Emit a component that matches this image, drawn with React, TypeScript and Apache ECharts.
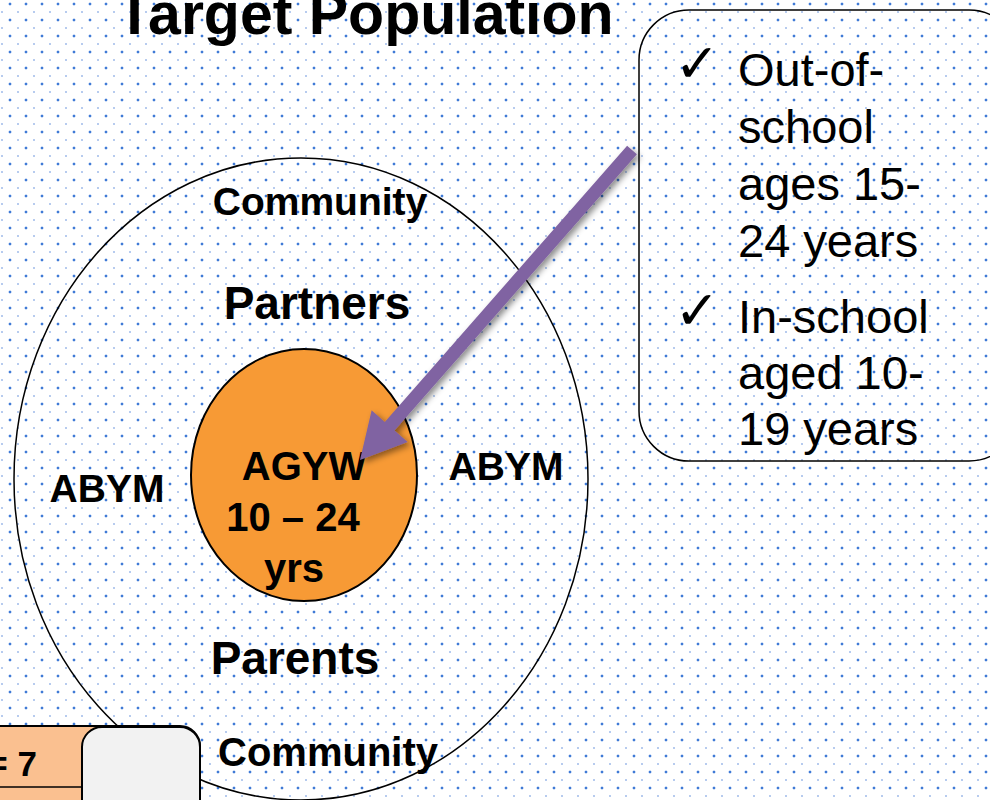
import React, { useEffect, useRef } from "react";
import * as echarts from "echarts";

// ---- content ----
const titleText = "Target Population";
const outerLabels = ["Community", "Partners", "ABYM", "ABYM", "Parents", "Community"];
const coreLabels = ["AGYW", "10 – 24", "yrs"];
const criteriaGroup1 = ["Out-of-", "school", "ages 15-", "24 years"];
const criteriaGroup2 = ["In-school", "aged 10-", "19 years"];
const cornerLabel = "n = 7";

// ---- layout (positions / styles) ----
const W = 990;
const H = 800;
const outerPos: [number, number, number][] = [
  [320, 201, 39],
  [317, 303, 46],
  [107, 488, 39],
  [506, 466, 39],
  [295, 658, 46],
  [328, 752, 40],
];
const corePos: [number, number][] = [
  [304, 466],
  [293, 517],
  [294, 568],
];
const FONT = "Liberation Sans, Arial, Helvetica, sans-serif";

function arrowPoints(tail: number[], tip: number[], shaftHalf: number, headLen: number, headHalf: number) {
  const dx = tip[0] - tail[0];
  const dy = tip[1] - tail[1];
  const len = Math.sqrt(dx * dx + dy * dy);
  const d = [dx / len, dy / len];
  const n = [-d[1], d[0]];
  const b = [tip[0] - headLen * d[0], tip[1] - headLen * d[1]];
  const p = (base: number[], k: number) => [base[0] + n[0] * k, base[1] + n[1] * k];
  return [
    p(tail, shaftHalf),
    p(b, shaftHalf),
    p(b, headHalf),
    tip,
    p(b, -headHalf),
    p(b, -shaftHalf),
    p(tail, -shaftHalf),
  ];
}

export default function App() {
  const ref = useRef<HTMLDivElement>(null);
  useEffect(() => {
    if (!ref.current) return;
    const chart = echarts.init(ref.current, undefined, { renderer: "svg", width: W, height: H });
    const boldText = (text: string, x: number, y: number, size: number, extra: any = {}) => ({
      type: "text",
      x,
      y,
      z: 10,
      style: {
        text,
        fill: "#000",
        font: `bold ${size}px ${FONT}`,
        textAlign: "center",
        textVerticalAlign: "middle",
        ...extra,
      },
    });
    const elements: any[] = [];
    elements.push({
      type: "ellipse",
      shape: { cx: 301, cy: 479, rx: 287, ry: 321 },
      z: 1,
      style: { fill: "transparent", stroke: "#000", lineWidth: 1.5 },
    });
    elements.push({
      type: "ellipse",
      shape: { cx: 304, cy: 475, rx: 113, ry: 126 },
      z: 2,
      style: { fill: "#F79A35", stroke: "#000", lineWidth: 2 },
    });
    elements.push(boldText(titleText, 365, 14, 59));
    outerLabels.forEach((t, i) => {
      const [x, y, s] = outerPos[i];
      elements.push(boldText(t, x, y, s));
    });
    coreLabels.forEach((t, i) => {
      const [x, y] = corePos[i];
      elements.push(boldText(t, x, y, 40));
    });
    elements.push({
      type: "rect",
      shape: { x: 639, y: 10, width: 380, height: 451, r: 50 },
      z: 3,
      style: { fill: "transparent", stroke: "#000", lineWidth: 1.5 },
    });
    const criteriaText = (t: string, y: number) => ({
      type: "text",
      x: 738,
      y,
      z: 10,
      style: { text: t, fill: "#000", font: `47px ${FONT}`, textAlign: "left", textVerticalAlign: "middle" },
    });
    criteriaGroup1.forEach((t, i) => elements.push(criteriaText(t, 69 + i * 57)));
    criteriaGroup2.forEach((t, i) => elements.push(criteriaText(t, 316 + i * 56)));
    [63, 310].forEach((y) =>
      elements.push({
        type: "text",
        x: 697,
        y,
        z: 10,
        style: {
          text: "✓",
          fill: "#000",
          font: `54px DejaVu Sans, sans-serif`,
          textAlign: "center",
          textVerticalAlign: "middle",
        },
      })
    );
    elements.push({
      type: "polygon",
      z: 20,
      shape: { points: arrowPoints([632, 150], [360, 460], 6.5, 45, 24) },
      style: {
        fill: "#8064A2",
        shadowBlur: 6,
        shadowColor: "rgba(0,0,0,0.45)",
        shadowOffsetX: 3,
        shadowOffsetY: 3,
      },
    });
    elements.push({
      type: "rect",
      z: 30,
      shape: { x: -4, y: 726, width: 204, height: 100, r: [0, 20, 0, 0] },
      style: { fill: "#FAC090", stroke: "#000", lineWidth: 2 },
    });
    elements.push({
      type: "line",
      z: 31,
      shape: { x1: -4, y1: 787, x2: 84, y2: 787 },
      style: { stroke: "#000", lineWidth: 1.5 },
    });
    elements.push({
      type: "text",
      x: 37,
      y: 763,
      z: 32,
      style: {
        text: cornerLabel,
        fill: "#000",
        font: `bold 35px ${FONT}`,
        textAlign: "right",
        textVerticalAlign: "middle",
      },
    });
    elements.push({
      type: "rect",
      z: 33,
      shape: { x: 82, y: 727, width: 118, height: 110, r: 20 },
      style: { fill: "#F2F2F2", stroke: "#000", lineWidth: 2 },
    });

    chart.setOption({
      animation: false,
      backgroundColor: "transparent",
      graphic: { elements },
    });
    return () => chart.dispose();
  }, []);

  return (
    <div
      style={{
        position: "absolute",
        left: 0,
        top: 0,
        width: W,
        height: H,
        overflow: "hidden",
        backgroundColor: "#fff",
        backgroundImage:
          "radial-gradient(circle at 10px 4px, #3f7ad6 0, #3f7ad6 0.9px, rgba(63,122,214,0.3) 1.5px, transparent 1.9px), radial-gradient(circle at 2px 12px, rgba(80,130,215,0.5) 0, rgba(80,130,215,0.5) 0.6px, transparent 1.2px)",
        backgroundSize: "16px 16px, 16px 16px",
      }}
    >
      <div ref={ref} style={{ width: W, height: H }} />
    </div>
  );
}
